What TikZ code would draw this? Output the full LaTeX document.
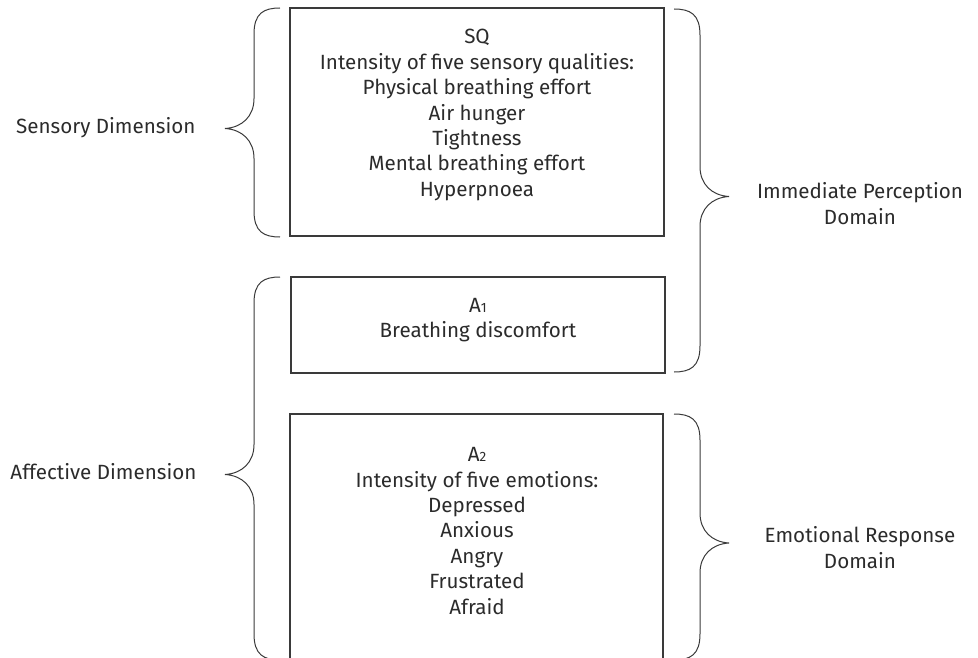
\documentclass[tikz,border=0pt]{standalone}
\usepackage{fontspec}
\setmainfont{Fira Sans}
\usepackage{xcolor}
\usepackage{tikz}
\definecolor{Ink}{HTML}{2b2b2b}
\definecolor{Rule}{HTML}{3a3a3a}

\tikzset{%
  box/.style={draw=Rule, line width=1.1pt, inner sep=0pt},%
  txt/.style={text=Ink, align=center, font=\fontsize{20.6}{25.4}\selectfont},%
  brc/.style={draw=Rule, line width=1pt},%
  pics/vbrace/.style={code={%
    \draw[brc] (0,0) .. controls (-16,0) and (-26,-5) .. (-26,-26)
      -- (-26,{-#1/2+24}) .. controls (-26,{-#1/2+6}) and (-38,{-#1/2-5}) .. (-55,{-#1/2-6})
      .. controls (-38,{-#1/2-7}) and (-26,{-#1/2-18}) .. (-26,{-#1/2-36})
      -- (-26,{-#1+26}) .. controls (-26,{-#1+5}) and (-16,-#1) .. (0,-#1);
  }}%
}
\newcommand{\smallsub}[1]{{\fontsize{13.5}{13.5}\selectfont #1}}

\begin{document}
\begin{tikzpicture}[x=1pt, y=1pt]%
\useasboundingbox (0,0) rectangle (978,-658);%
% boxes
\node[box, minimum width=374, minimum height=228] (sq) at (477,-122) {};%
\node[box, minimum width=374, minimum height=96] (aone) at (478,-325) {};%
\node[box, minimum width=373, minimum height=252] (atwo) at (476.5,-540) {};%
% box texts
\node[txt] (sqtxt) at (477,-115) {SQ\\Intensity of five sensory qualities:\\Physical breathing effort\\Air hunger\\Tightness\\Mental breathing effort\\Hyperpnoea};%
\node[txt] (aonetxt) at (478,-320) {A\smallsub{1}\\Breathing discomfort};%
\node[txt] (atwotxt) at (477,-531) {A\smallsub{2}\\Intensity of five emotions:\\Depressed\\Anxious\\Angry\\Frustrated\\Afraid};%
% left braces
\pic at (280,-8) {vbrace=229};%
\pic at (280,-277) {vbrace=383};%
% right braces
\pic[xscale=-1] at (674,-9) {vbrace=363};%
\pic[xscale=-1] at (674,-414) {vbrace=246};%
% side labels
\node[txt, anchor=east] (sens) at (199,-128) {Sensory Dimension};%
\node[txt, anchor=east] (affe) at (200,-472) {Affective Dimension};%
\node[txt] (imme) at (860,-203.5) {Immediate Perception\\Domain};%
\node[txt] (emot) at (860,-547.5) {Emotional Response\\Domain};%
\end{tikzpicture}
\end{document}
